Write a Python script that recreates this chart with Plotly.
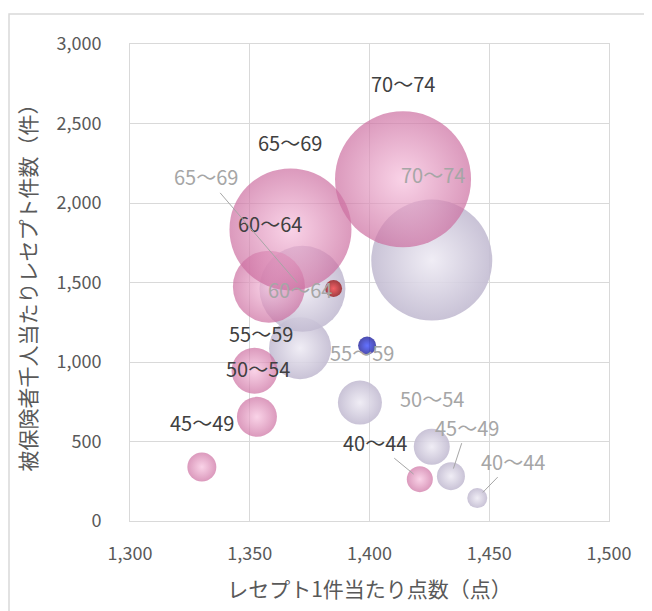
import plotly.graph_objects as go

# 年齢階級
ages = ["40～44", "45～49", "50～54", "55～59", "60～64", "65～69", "70～74"]

# ピンク系列 (黒ラベル)
pink_x = [1421, 1330, 1353, 1352, 1358, 1367, 1414]
pink_y = [263, 340, 655, 945, 1474, 1834, 2149]
pink_size = [1690, 2100, 4000, 5290, 12960, 37210, 46240]

# 灰色系列 (灰ラベル)
grey_x = [1445, 1434, 1426, 1396, 1371, 1372, 1426]
grey_y = [144, 282, 467, 745, 1087, 1460, 1641]
grey_size = [1000, 1960, 3240, 4840, 9610, 18490, 36600]

# 平均点 (赤・青)
avg_x = [1385, 1399]
avg_y = [1462, 1103]

FONT = "Noto Sans CJK JP"
SIZEREF = 5

fig = go.Figure()

# radial gradient: marker.color = edge, gradient.color = centre
fig.add_trace(go.Scatter(
    x=grey_x, y=grey_y, mode="markers", hoverinfo="skip",
    marker=dict(size=grey_size, sizemode="area", sizeref=SIZEREF,
                color="#c3bcd2", opacity=0.9, line=dict(width=0),
                gradient=dict(type="radial", color="#eeebf4")),
))
fig.add_trace(go.Scatter(
    x=pink_x, y=pink_y, mode="markers", hoverinfo="skip",
    marker=dict(size=pink_size, sizemode="area", sizeref=SIZEREF,
                color="#cc6ea0", line=dict(width=0),
                gradient=dict(type="radial", color="#f7c0dd")),
))
fig.add_trace(go.Scatter(
    x=avg_x, y=avg_y, mode="markers", hoverinfo="skip",
    marker=dict(size=[17, 18], color=["#8c0000", "#00008a"], line=dict(width=0),
                gradient=dict(type="radial", color=["#ff3030", "#2035ff"])),
))

# label offsets in px (dx, dy; dy negative = up), arrow = leader line
pink_lbl = [(-45, -37, True), (0, -44, False), (1, -48, False), (6, -37, False),
            (1, -63, False), (0, -87, False), (0, -96, False)]
grey_lbl = [(36, -37, True), (16, -49, True), (0, -48, False), (2, -50, False),
            (0, -59, False), (-96, -112, True), (1, -86, False)]

annos = []
for xs, ys, offs, col in ((pink_x, pink_y, pink_lbl, "#404040"),
                          (grey_x, grey_y, grey_lbl, "#a6a6a6")):
    for name, x, y, (dx, dy, arrow) in zip(ages, xs, ys, offs):
        a = dict(x=x, y=y, text=name, font=dict(family=FONT, size=20, color=col))
        if arrow:
            a.update(showarrow=True, ax=dx, ay=dy, arrowhead=0, arrowwidth=1,
                     arrowcolor="#a6a6a6", standoff=8)
        else:
            a.update(showarrow=False, xshift=dx, yshift=-dy)
        annos.append(a)

# page body has an 8px margin, so the figure is 8px smaller than the window
fig.update_layout(
    width=644, height=603,
    margin=dict(l=122, r=43, t=36, b=90),
    paper_bgcolor="white", plot_bgcolor="white",
    showlegend=False,
    font=dict(family=FONT, color="#595959", size=18),
    annotations=annos,
    shapes=[dict(type="rect", xref="paper", yref="paper",
                 x0=-0.2526, x1=1.12, y0=-0.25, y1=1.063,
                 line=dict(color="#d9d9d9", width=1.5), layer="below")],
)
fig.update_xaxes(range=[1300, 1500], dtick=50, tickformat=",",
                 showgrid=True, gridcolor="#d9d9d9", zeroline=False,
                 showline=True, mirror=True, linecolor="#d9d9d9",
                 ticks="", ticklabelstandoff=16,
                 tickfont=dict(size=18, color="#595959"),
                 title=dict(text="レセプト1件当たり点数（点）", standoff=18,
                            font=dict(size=21, color="#595959")))
fig.update_yaxes(range=[0, 3000], dtick=500, tickformat=",",
                 showgrid=True, gridcolor="#d9d9d9", zeroline=False,
                 showline=True, mirror=True, linecolor="#d9d9d9",
                 ticks="", ticklabelstandoff=24,
                 tickfont=dict(size=18, color="#595959"),
                 title=dict(text="被保険者千人当たりレセプト件数（件）", standoff=14,
                            font=dict(size=21, color="#595959")))

fig.write_html("out.html", config=dict(displayModeBar=False))
